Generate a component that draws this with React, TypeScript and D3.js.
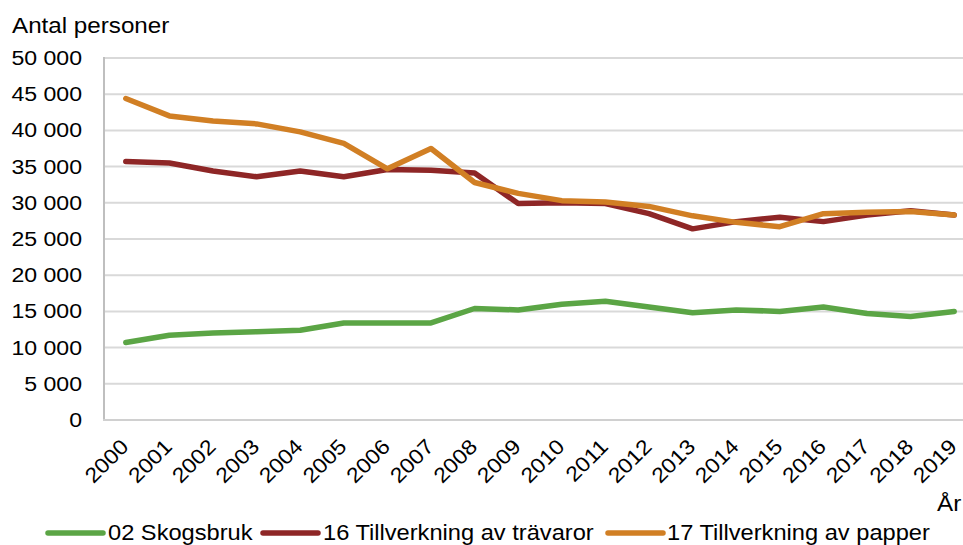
import React from "react";
import * as d3 from "d3";

const years = ["2000","2001","2002","2003","2004","2005","2006","2007","2008","2009","2010","2011","2012","2013","2014","2015","2016","2017","2018","2019"];
const skogsbruk = [10700,11700,12000,12200,12400,13400,13400,13400,15400,15200,16000,16400,15600,14800,15200,15000,15600,14700,14300,15000];
const travaror = [35700,35500,34400,33600,34400,33600,34600,34500,34100,29900,30000,29900,28500,26400,27400,28000,27400,28300,28900,28300];
const papper = [44400,42000,41300,40900,39800,38200,34700,37500,32800,31300,30300,30100,29500,28200,27300,26700,28500,28700,28800,28300];
const yTicks = [0,5000,10000,15000,20000,25000,30000,35000,40000,45000,50000];
const seriesNames = ["02 Skogsbruk","16 Tillverkning av trävaror","17 Tillverkning av papper"];
const seriesColors = ["#5ba545","#8e2626","#d17f24"];

const W = 963, H = 545;
const font = "'Liberation Sans', Arial, sans-serif";
const SX = 1.1;

function T({ x, y, size, anchor = "start", children }: any) {
  return (
    <text transform={`translate(${x},${y}) scale(${SX},1)`} textAnchor={anchor} fontFamily={font} fontSize={size} fill="#000">{children}</text>
  );
}

export default function App() {
  const x = d3.scaleBand<string>().domain(years).range([104, 976]);
  const y = d3.scaleLinear().domain([0, 50000]).range([420, 58]);
  const fmt = (v: number) => v === 0 ? "0" : d3.format(",")(v).replace(/,/g, " ");
  const cx = (d: string) => (x(d) as number) + x.bandwidth() / 2;
  const line = d3.line<number>().x((_, i) => cx(years[i])).y(v => y(v));
  const data = [skogsbruk, travaror, papper];
  const legendX = [48, 263, 608];
  const legendTextX = [108, 323, 667];
  return (
    <svg width={W} height={H} style={{ position: "absolute", left: 0, top: 0, background: "#fff" }}>
      <T x={12} y={33} size={22}>Antal personer</T>
      {yTicks.map(t => (
        <g key={t}>
          {t > 0 && <line x1={104} x2={976} y1={y(t)} y2={y(t)} stroke="#d9d9d9" strokeWidth={2} />}
          <T x={82} y={y(t) + 7} size={21} anchor="end">{fmt(t)}</T>
        </g>
      ))}
      <line x1={104} x2={104} y1={57} y2={421} stroke="#bfbfbf" strokeWidth={2} />
      <line x1={103} x2={976} y1={420} y2={420} stroke="#d0d0d0" strokeWidth={2} />
      {years.map(yr => (
        <text key={yr} transform={`translate(${cx(yr) + 4},${448}) rotate(-45) scale(${SX},1)`} textAnchor="end" fontFamily={font} fontSize={21} fill="#000">{yr}</text>
      ))}
      <T x={937} y={511} size={22}>År</T>
      {data.map((d, i) => (
        <path key={i} d={line(d) as string} fill="none" stroke={seriesColors[i]} strokeWidth={5.5} strokeLinejoin="round" strokeLinecap="round" />
      ))}
      {seriesNames.map((n, i) => (
        <g key={n}>
          <line x1={legendX[i]} x2={legendX[i] + 55} y1={533} y2={533} stroke={seriesColors[i]} strokeWidth={5.5} strokeLinecap="round" />
          <T x={legendTextX[i]} y={540} size={21.5}>{n}</T>
        </g>
      ))}
    </svg>
  );
}
